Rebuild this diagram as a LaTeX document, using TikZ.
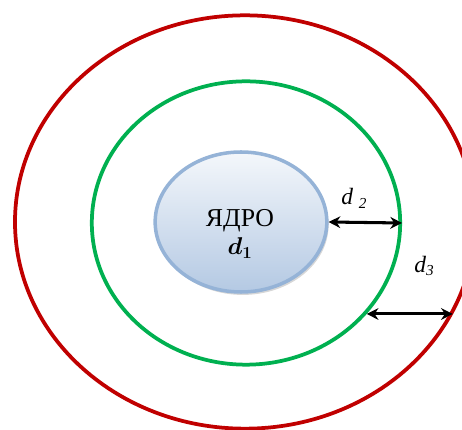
\documentclass[tikz,border=0pt]{standalone}
\usepackage{fontspec}
\setmainfont{Liberation Serif}
\usepackage{bm}
\usetikzlibrary{shapes.geometric,arrows.meta,shadows}

\definecolor{shellred}{HTML}{C00000}
\definecolor{shellgreen}{HTML}{00B050}
\definecolor{coreedge}{HTML}{95B3D7}
\definecolor{coretop}{HTML}{F4F7FB}
\definecolor{corebottom}{HTML}{B4C9E3}

\tikzset{
  shell/.style={ellipse, draw, line width=3.2pt, inner sep=0pt},
  gap/.style={{Stealth[length=10pt,width=10pt]}-{Stealth[length=10pt,width=10pt]},
    line width=2.6pt},
  dlabel/.style={font=\fontsize{20}{24}\selectfont\itshape, inner sep=0pt}
}

\begin{document}
\begin{tikzpicture}[x=0.03cm, y=-0.03cm]
  \useasboundingbox (0,0) rectangle (462,430);

  % Shells
  \node[shell, shellred, minimum width=13.8cm, minimum height=12.4cm]
    (outer) at (245,222) {};
  \node[shell, shellgreen, minimum width=9.25cm, minimum height=8.5cm]
    (inner) at (246,223) {};

  % Core
  \node[ellipse, draw=coreedge, line width=3pt, top color=coretop,
    bottom color=corebottom, minimum width=5.15cm, minimum height=4.2cm,
    drop shadow={shadow xshift=1.5pt, shadow yshift=-2.5pt, fill=gray!70,
    opacity=0.45}] (core) at (241,222) {};
  \node[font=\fontsize{22}{26}\selectfont, inner sep=0pt, anchor=base]
    (coretext) at (240,227) {ЯДРО};
  \node[font=\fontsize{21}{24}\selectfont, inner sep=0pt, anchor=base]
    (dcore) at (240,255) {$\bm{d_1}$};

  % Distances
  \draw[gap] (core.east) -- (inner.east);
  \node[dlabel] (dtwo) at (354,198)
    {d\hspace{5pt}\raisebox{-0.35ex}{\fontsize{13}{13}\selectfont 2}};
  \draw[gap] (inner.-37.6) -- (inner.-37.6 -| outer.-24.4);
  \node[dlabel] (dthree) at (424,266)
    {d\raisebox{-0.35ex}{\fontsize{13}{13}\selectfont 3}};
\end{tikzpicture}
\end{document}
